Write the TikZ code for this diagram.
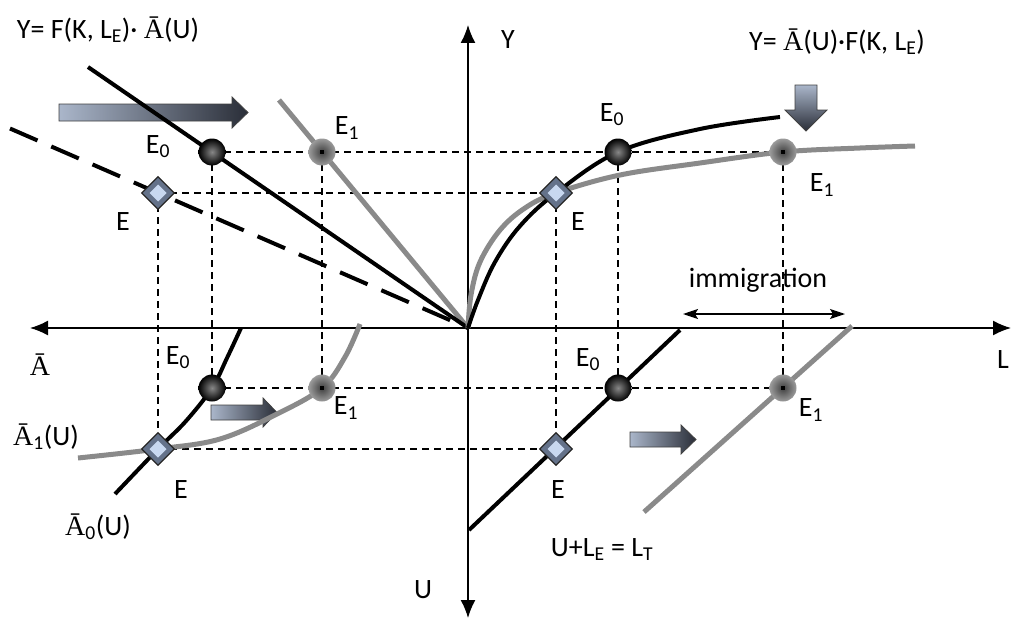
\documentclass[tikz,border=0pt]{standalone}
\usepackage{fontspec}
\setmainfont{Carlito}
\newfontfamily\abar{Liberation Serif}
\newcommand{\Ab}{{\abar Ā}}
\usetikzlibrary{arrows.meta,shapes.geometric}
\definecolor{mygray}{RGB}{138,138,138}
\definecolor{arrowlight}{RGB}{170,182,202}
\definecolor{arrowdark}{RGB}{42,46,56}
\definecolor{dlight}{RGB}{200,216,240}
\definecolor{dmid}{RGB}{100,114,138}
\definecolor{ballmid}{RGB}{135,135,135}
\pgfdeclarelayer{bg}
\pgfsetlayers{bg,main}
\begin{document}
\begin{tikzpicture}[x=1pt,y=-1pt, font=\fontsize{28}{32}\selectfont,
  blk/.style={line width=4pt, black},
  gry/.style={line width=5pt, mygray},
  guide/.style={line width=1.4pt, dash pattern=on 7pt off 5pt},
  ax/.style={line width=1.6pt, {Latex[length=18pt,width=15pt]}-{Latex[length=18pt,width=15pt]}},
  ballA/.style={circle, minimum size=27pt, inner sep=0pt, inner color=ballmid, outer color=black},
  ballB/.style={circle, minimum size=27pt, inner sep=0pt, inner color=black!75, outer color=mygray!85!white,
    path picture={\fill[black] ([xshift=-1.8pt,yshift=-1.8pt]path picture bounding box.center) rectangle ++(3.6pt,3.6pt);}},
  dia/.style={diamond, minimum width=33pt, minimum height=33pt, inner sep=0pt, fill=dmid, draw=black!85, line width=1.3pt,
    path picture={\fill[dlight] (path picture bounding box.center) +(0pt,-8.5pt) -- +(8.5pt,0pt) -- +(0pt,8.5pt) -- +(-8.5pt,0pt) -- cycle;}},
  lbl/.style={inner sep=0pt},
  bigarrow/.style={left color=arrowlight, right color=arrowdark, draw=black!75, line width=0.8pt},
  downarrow/.style={top color=arrowlight, bottom color=arrowdark, draw=black!75, line width=0.8pt}
]
\useasboundingbox (0,0) rectangle (1011,618);

% key points
\coordinate (O) at (468,328);
\coordinate (Aend) at (30,328);
\coordinate (Lend) at (1011,328);
\coordinate (Ytop) at (468,25);
\coordinate (Ubot) at (468,618);
\coordinate (tlBlack) at (88,67);
\coordinate (tlGray) at (279,100);
\coordinate (tlDash) at (10,128.5);
\coordinate (brBlackA) at (469,530);
\coordinate (brBlackB) at (680,330);
\coordinate (brGrayA) at (644,512);
\coordinate (brGrayB) at (852,326);
\coordinate (imL) at (683,314);
\coordinate (imR) at (845,314);

% equilibrium markers
\node[ballA] (E0tl) at (212,152) {};
\node[ballB] (E1tl) at (322,152) {};
\node[dia]   (Dtl)  at (158,193) {};
\node[ballA] (E0tr) at (618,152) {};
\node[ballB] (E1tr) at (783,152) {};
\node[dia]   (Dtr)  at (556,193) {};
\node[ballA] (E0bl) at (212,388) {};
\node[ballB] (E1bl) at (322,388) {};
\node[dia]   (Dbl)  at (158,449) {};
\node[ballA] (E0br) at (618,388) {};
\node[ballB] (E1br) at (783,388) {};
\node[dia]   (Dbr)  at (556,449) {};

\begin{pgfonlayer}{bg}
% shift arrows
\shade[bigarrow] (59,104) -- (232,104) -- (232,97) -- (248,112.5) -- (232,128) -- (232,121) -- (59,121) -- cycle;
\shade[downarrow] (795,85) -- (817,85) -- (817,110) -- (827,110) -- (806,131) -- (785,110) -- (795,110) -- cycle;
\shade[bigarrow] (211,405) -- (263,405) -- (263,398) -- (277,412.5) -- (263,427) -- (263,420) -- (211,420) -- cycle;
\shade[bigarrow] (630,432) -- (681,432) -- (681,425) -- (696,439.5) -- (681,454) -- (681,447) -- (630,447) -- cycle;

% guide lines
\draw[guide] (E0tl.center) -- (E1tr.center);
\draw[guide] (Dtl.center) -- (Dtr.center);
\draw[guide] (E0bl.center) -- (E1br.center);
\draw[guide] (Dbl.center) -- (Dbr.center);
\draw[guide] (Dtl.center) -- (Dbl.center);
\draw[guide] (E0tl.center) -- (E0bl.center);
\draw[guide] (E1tl.center) -- (E1bl.center);
\draw[guide] (Dtr.center) -- (Dbr.center);
\draw[guide] (E0tr.center) -- (E0br.center);
\draw[guide] (E1tr.center) -- (E1br.center);

% axes
\draw[ax] (Aend) -- (Lend);
\draw[ax] (Ytop) -- (Ubot);
\draw[line width=1.3pt, {Stealth[length=15pt,width=10pt,inset=3pt]}-{Stealth[length=15pt,width=10pt,inset=3pt]}] (imL) -- (imR);

% top-left quadrant
\draw[blk, line cap=butt, dash pattern=on 30pt off 15pt] (tlDash) -- (O);
\draw[gry] (tlGray) -- (O);
\draw[blk] (tlBlack) -- (O);

% top-right quadrant
\draw[gry] plot[smooth, tension=0.6] coordinates {(468,328) (471,295) (480,262) (500,230) (525,208) (556,193) (620,175) (700,163) (783,152) (860,148) (915,146)};
\draw[blk] plot[smooth, tension=0.6] coordinates {(468,328) (478,300) (495,262) (520,226) (556,193) (618,152) (700,129) (780,117)};

% bottom-left quadrant
\draw[gry] plot[smooth, tension=0.6] coordinates {(78,458) (158,449) (220,439) (277,414) (322,388) (345,357) (360,324)};
\draw[blk] plot[smooth, tension=0.6] coordinates {(241,328) (227,358) (212,388) (186,421) (158,449) (115,494)};

% bottom-right quadrant
\draw[gry] (brGrayA) -- (brGrayB);
\draw[blk] (brBlackA) -- (brBlackB);
\end{pgfonlayer}

% labels
\node[lbl] (fTL) at (108,30) {Y= F(K, L\textsubscript{E})· \Ab(U)};
\node[lbl] (fTR) at (837,42) {Y= \Ab(U)·F(K, L\textsubscript{E})};
\node[lbl] (tY) at (508,40) {Y};
\node[lbl, anchor=east] (tL) at (1009,360) {L};
\node[lbl] (tA) at (40,365) {\Ab};
\node[lbl] (tU) at (423,590) {U};
\node[lbl] (tim) at (758,280) {immigration};
\node[lbl] (tA1) at (46,437) {\Ab\textsubscript{1}(U)};
\node[lbl] (tA0) at (98,527) {\Ab\textsubscript{0}(U)};
\node[lbl] (tLT) at (602,550) {U+L\textsubscript{E} = L\textsubscript{T}};

\node[lbl] (tE0tl) at (158,147) {E\textsubscript{0}};
\node[lbl] (tE1tl) at (347,128) {E\textsubscript{1}};
\node[lbl] (tEtl)  at (123,222) {E};
\node[lbl] (tE0tr) at (612,115) {E\textsubscript{0}};
\node[lbl] (tE1tr) at (822,185) {E\textsubscript{1}};
\node[lbl] (tEtr)  at (578,222) {E};
\node[lbl] (tE0bl) at (178,358) {E\textsubscript{0}};
\node[lbl] (tE1bl) at (346,408) {E\textsubscript{1}};
\node[lbl] (tEbl)  at (181,490) {E};
\node[lbl] (tE0br) at (588,360) {E\textsubscript{0}};
\node[lbl] (tE1br) at (811,410) {E\textsubscript{1}};
\node[lbl] (tEbr)  at (558,490) {E};
\end{tikzpicture}
\end{document}
